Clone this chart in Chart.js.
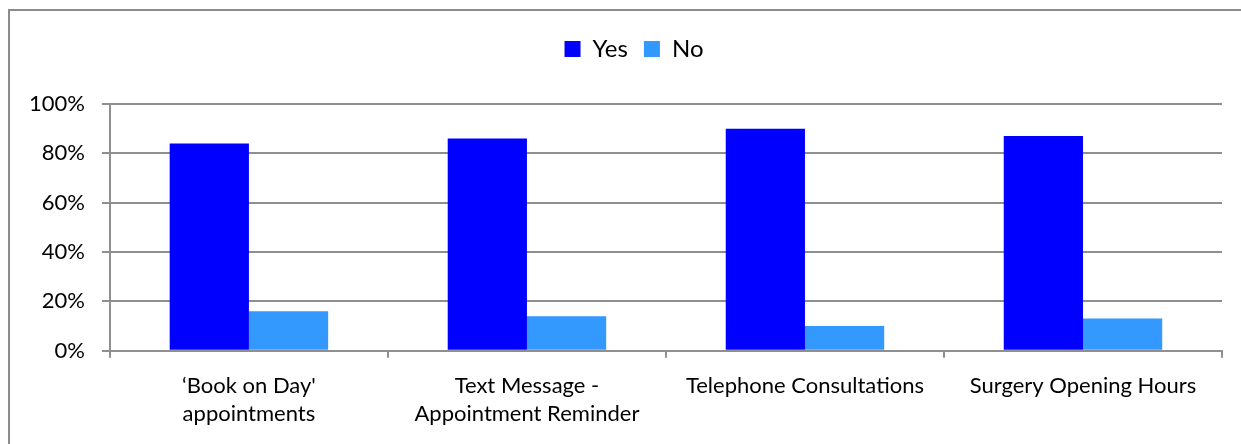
<!DOCTYPE html>
<html>
<head>
<meta charset="utf-8">
<title>Patient survey</title>
<script src="https://cdn.jsdelivr.net/npm/chart.js@4/dist/chart.umd.min.js"></script>
<style>
  html, body { margin: 0; padding: 0; background: #fff; overflow: hidden; }
  #frame {
    position: absolute; left: 8px; top: 9px; width: 1400px; height: 600px;
    border-left: 2px solid #8c8c8c; border-top: 2px solid #8c8c8c;
  }
  #wrap { position: absolute; left: 0; top: 0; width: 1241px; height: 444px; }
</style>
</head>
<body>
<div id="frame"></div>
<div id="wrap"><canvas id="surveyChart"></canvas></div>
<script>
// survey answers, percent of respondents
const categories = [
    ["\u2018Book on Day'", "appointments"],
    ["Text Message -", "Appointment Reminder"],
    "Telephone Consultations",
    "Surgery Opening Hours"
];
const yesValues = [84, 86, 90, 87];
const noValues = [16, 14, 10, 13];
const yTicks = [0, 20, 40, 60, 80, 100];

const gridGrey = '#8f8f8f';
const fontFamily = "Lato, 'Open Sans', sans-serif";

// extra room under the legend, and nudge it a little to the right
const legendGap = {
    id: 'legendGap',
    beforeInit(chart) {
        if (!chart.legend) return;
        const origFit = chart.legend.fit;
        chart.legend.fit = function () {
            origFit.bind(chart.legend)();
            this.height += 33;
        };
    },
    afterLayout(chart) {
        if (!chart.legend) return;
        chart.legend.left += 17;
        chart.legend.right += 17;
    }
};

function initializeSurveyChart() {
    if (typeof Chart === 'undefined') {
        console.error('Chart.js not found!');
        return;
    }
    const ctx = document.getElementById('surveyChart').getContext('2d');
    new Chart(ctx, {
        type: 'bar',
        data: {
            labels: categories,
            datasets: [{
                label: 'Yes',
                data: yesValues,
                backgroundColor: '#0000ff'
            }, {
                label: 'No',
                data: noValues,
                backgroundColor: '#3399ff'
            }]
        },
        plugins: [legendGap],
        options: {
            responsive: true,
            maintainAspectRatio: false,
            animation: false,
            datasets: {
                bar: { categoryPercentage: 0.57, barPercentage: 1.0 }
            },
            layout: { padding: { left: 12, right: 19, top: 21, bottom: 2 } },
            plugins: {
                legend: {
                    position: 'top',
                    labels: {
                        boxWidth: 16,
                        boxHeight: 16,
                        padding: 16,
                        color: '#000',
                        font: { family: fontFamily, size: 24 }
                    }
                },
                tooltip: { enabled: false }
            },
            scales: {
                x: {
                    grid: {
                        display: true,
                        drawOnChartArea: false,
                        offset: true,
                        color: gridGrey,
                        lineWidth: 2,
                        tickLength: 7
                    },
                    border: { display: true, color: gridGrey, width: 2 },
                    ticks: {
                        color: '#000',
                        padding: 14,
                        maxRotation: 0,
                        autoSkip: false,
                        font: { family: fontFamily, size: 22, lineHeight: 1.28 }
                    }
                },
                y: {
                    min: 0,
                    max: 100,
                    afterBuildTicks: axis => {
                        axis.ticks = yTicks.map(v => ({ value: v }));
                    },
                    grid: {
                        color: gridGrey,
                        lineWidth: 2,
                        tickLength: 8
                    },
                    border: { display: true, color: gridGrey, width: 2 },
                    ticks: {
                        color: '#000',
                        padding: 17,
                        callback: v => v + '%',
                        font: { family: fontFamily, size: 22 }
                    }
                }
            }
        }
    });
}

document.addEventListener('DOMContentLoaded', initializeSurveyChart);
</script>
</body>
</html>
